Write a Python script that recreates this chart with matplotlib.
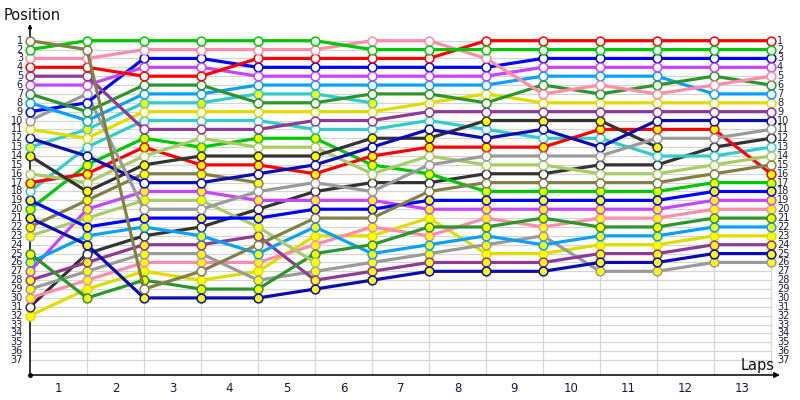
import numpy as np
import matplotlib.pyplot as plt

# laps 0 (grid) .. 13
laps = list(range(0, 14))
lap_labels = [str(i) for i in range(1, 14)]
positions = list(range(1, 38))

# position of each car after each lap, None = out of the race
olive_w = [1, 2, 29, 27, 24, 21, 21, 18, 17, 17, 17, 17, 16, 15]
green_w = [2, 1, 1, 1, 1, 1, 2, 2, 2, 2, 2, 2, 2, 2]
pink_w = [3, 3, 2, 2, 2, 2, 1, 1, 3, 7, 6, 7, 6, 5]
red_w = [4, 4, 5, 5, 3, 3, 3, 3, 1, 1, 1, 1, 1, 1]
purple_w = [5, 5, 11, 11, 11, 10, 10, 9, 9, 9, 9, 9, 9, 9]
magenta_w = [6, 6, 4, 4, 5, 5, 5, 5, 5, 4, 4, 4, 4, 4]
dkgreen_w = [7, 9, 6, 6, 8, 8, 7, 7, 8, 6, 7, 6, 5, 6]
ltblue_w = [8, 10, 7, 7, 6, 6, 6, 6, 6, 5, 5, 5, 7, 7]
blue_w = [9, 8, 3, 3, 4, 4, 4, 4, 4, 3, 3, 3, 3, 3]
gray_w = [10, 7, 20, 20, 18, 17, 18, 15, 14, 14, 14, 12, 12, 11]
yellow_w = [11, 12, 9, 9, 9, 9, 9, 8, 7, 8, 8, 8, 8, 8]
navy_w = [12, 14, 17, 17, 16, 15, 13, 11, 12, 11, 13, 10, 10, 10]
cyan_y = [13, 11, 8, 8, 7, 7, 8, None, None, None, None, None, None, None]
black_y = [14, 18, 15, 14, 14, 14, 12, 12, 10, 10, 10, 13, None, None]
ltgreen_w = [16, 17, 14, 12, 13, 13, 16, 14, 15, 15, 16, 16, 15, 14]
red_y = [17, 16, 13, 15, 15, 16, 14, 13, 13, 13, 11, 11, 11, 16]
cyan_w = [18, 13, 10, 10, 10, 11, 11, 10, 11, 12, 12, 14, 14, 13]
blue_y = [19, 22, 21, 21, 21, 20, 20, 19, 19, 19, 19, 19, 18, 18]
green_y = [20, 15, 12, 13, 12, 12, 15, 16, 18, 18, 18, 18, 17, 17]
navy_y = [21, 24, 30, 30, 30, 29, 28, 27, 27, 27, 26, 26, 25, 25]
olive_y = [22, 19, 16, 16, 17, None, None, None, None, None, None, None, None, None]
ltgreen_y = [23, 21, 19, 19, 22, 26, None, None, None, None, None, None, None, None]
dkgreen_y = [25, 30, 28, 29, 29, 25, 24, 22, 22, 21, 22, 22, 21, 21]
ltblue_y = [26, 23, 22, 23, 25, 22, 25, 24, 23, 24, 23, 23, 22, 22]
magenta_y = [27, 20, 18, 18, 19, 19, 19, 20, 20, 20, 20, 20, 19, 19]
purple_y = [28, 26, 24, 24, 23, 28, 27, 26, 26, 26, 25, 25, 24, 24]
gray_y = [29, 27, 25, 25, 28, 27, 26, 25, 24, 23, 27, 27, 26, 26]
pink_y = [30, 28, 26, 26, 26, 24, 22, 23, 21, 22, 21, 21, 20, 20]
black_w = [31, 25, 23, 22, 20, 18, 17, 17, 16, 16, 15, 15, 13, 12]
yellow_y = [32, 29, 27, 28, 27, 23, 23, 21, 25, 25, 24, 24, 23, 23]

# colours
c_green = '#00c800'
c_pink = '#ff8cab'
c_red = '#ff0000'
c_purple = '#8f3a96'
c_magenta = '#c844ff'
c_dkgreen = '#2c962c'
c_ltblue = '#0aa0ff'
c_blue = '#0000ff'
c_gray = '#9a9a9a'
c_yellow = '#e0dc00'
c_navy = '#0c0cb0'
c_cyan = '#33cccc'
c_black = '#333333'
c_olive = '#828046'
c_ltgreen = '#a8cc66'
W = 'white'
Y = '#ffff00'

cars = [
    (yellow_y, c_yellow, Y), (black_w, c_black, W), (pink_y, c_pink, Y),
    (gray_y, c_gray, Y), (purple_y, c_purple, Y), (magenta_y, c_magenta, Y),
    (ltblue_y, c_ltblue, Y), (dkgreen_y, c_dkgreen, Y), (ltgreen_y, c_ltgreen, Y),
    (olive_y, c_olive, Y), (navy_y, c_navy, Y), (green_y, c_green, Y),
    (blue_y, c_blue, Y), (cyan_w, c_cyan, W), (red_y, c_red, Y),
    (ltgreen_w, c_ltgreen, W), (black_y, c_black, Y), (cyan_y, c_cyan, Y),
    (navy_w, c_navy, W), (yellow_w, c_yellow, W), (gray_w, c_gray, W),
    (blue_w, c_blue, W), (ltblue_w, c_ltblue, W), (dkgreen_w, c_dkgreen, W),
    (magenta_w, c_magenta, W), (purple_w, c_purple, W), (red_w, c_red, W),
    (pink_w, c_pink, W), (green_w, c_green, W), (olive_w, c_olive, W),
]

fig = plt.figure(figsize=(8, 4), dpi=100)
ax = fig.add_axes([0, 0, 1, 1])
# 57 px per lap, lap 0 at x=30 px ; 8.87 px per position, P1 at y=40.7 px
ax.set_xlim(-30 / 57, 770 / 57)
ax.set_ylim(1 + (400 - 40.7) / 8.87, 1 - 40.7 / 8.87)
ax.axis('off')

grid_c = '#d6d6d6'
for p in positions:
    ax.plot([0, laps[-1]], [p, p], color=grid_c, lw=0.9, zorder=1)
y_bottom = 1 + (375 - 40.7) / 8.87
for lp in laps[1:]:
    ax.plot([lp, lp], [1, y_bottom], color=grid_c, lw=0.9, zorder=1)

# axes with arrows
x_end = (780 - 30) / 57
y_top = 1 + (24 - 40.7) / 8.87
ax.annotate('', xy=(x_end, y_bottom), xytext=(0, y_bottom),
            arrowprops=dict(arrowstyle='-|>', color='black', lw=1.1,
                            mutation_scale=8, shrinkA=0, shrinkB=0), zorder=2)
ax.annotate('', xy=(0, y_top), xytext=(0, y_bottom),
            arrowprops=dict(arrowstyle='-|>', color='black', lw=1.1,
                            mutation_scale=5, shrinkA=0, shrinkB=0), zorder=2)
ax.plot([0], [y_bottom], 'o', color='black', ms=2.5, zorder=2)

for pos, col, fill in cars:
    y = np.array([np.nan if v is None else v for v in pos], dtype=float)
    ax.plot(laps, y, color=col, lw=2.3, marker='o', ms=6.3, mfc=fill,
            mec=col, mew=1.1, zorder=3)

label_c = '#1a1a40'
for p in positions:
    ax.text(-7 / 57, p, str(p), ha='right', va='center', fontsize=7,
            color=label_c)
    ax.text(laps[-1] + 6 / 57, p, str(p), ha='left', va='center', fontsize=7,
            color=label_c)
for i, lab in enumerate(lap_labels):
    ax.text(i + 0.5, 1 + (388 - 40.7) / 8.87, lab, ha='center', va='center',
            fontsize=8.5, color=label_c)

ax.text(-26 / 57, 1 + (15 - 40.7) / 8.87, 'Position', ha='left', va='center',
        fontsize=10.5, color='#111111')
ax.text((758 - 30) / 57, 1 + (365 - 40.7) / 8.87, 'Laps', ha='center',
        va='center', fontsize=10.5, color='#111111')

fig.savefig('out.png', dpi=100)
